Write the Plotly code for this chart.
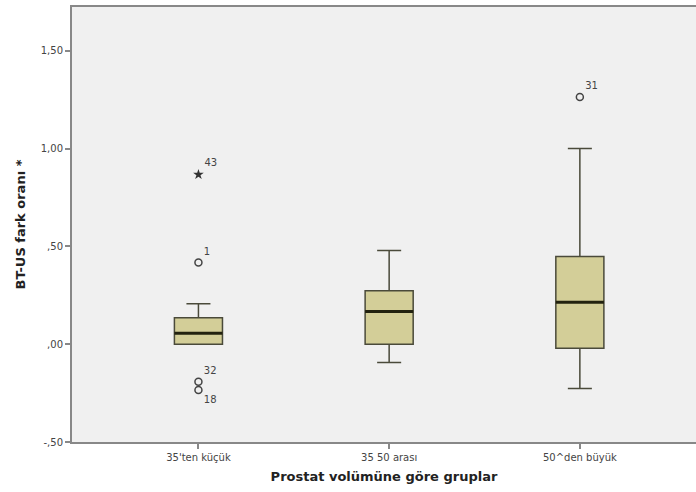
import plotly.graph_objects as go

categories = ["35'ten küçük", "35 50 arası", "50^den büyük"]
q1 = [0.000, 0.000, -0.021]
median = [0.056, 0.167, 0.215]
q3 = [0.136, 0.273, 0.449]
lower_whisker = [0.000, -0.094, -0.226]
upper_whisker = [0.207, 0.480, 1.001]

# outliers: (category index, value, case label)
outlier_cat = [0, 0, 0, 2]
outlier_val = [0.418, -0.192, -0.234, 1.265]
outlier_lab = ["1", "32", "18", "31"]
outlier_pos = ["top right", "top right", "bottom right", "top right"]

extreme_cat = [0]
extreme_val = [0.868]
extreme_lab = ["43"]

y_tickvals = [-0.5, 0.0, 0.5, 1.0, 1.5]
y_ticktext = ["-,50", ",00", ",50", "1,00", "1,50"]

BOX_W = 0.252
FILL = "rgb(211,206,152)"
EDGE = "#4a4a3a"
FONT = "DejaVu Sans"
xs = list(range(len(categories)))

fig = go.Figure()
for i in xs:
    fig.add_trace(go.Box(
        x=[i], q1=[q1[i]], median=[median[i]], q3=[q3[i]],
        lowerfence=[lower_whisker[i]], upperfence=[upper_whisker[i]],
        width=BOX_W, whiskerwidth=0.5, fillcolor=FILL,
        line=dict(color=EDGE, width=1.5), boxpoints=False,
        showlegend=False, hoverinfo="skip"))
    fig.add_trace(go.Scatter(
        x=[i - BOX_W / 2, i + BOX_W / 2], y=[median[i], median[i]],
        mode="lines", line=dict(color="#22220f", width=3),
        showlegend=False, hoverinfo="skip"))

fig.add_trace(go.Scatter(
    x=outlier_cat, y=outlier_val, mode="markers+text",
    marker=dict(symbol="circle-open", size=7, color="#444", line=dict(width=1.5)),
    text=outlier_lab, textposition=outlier_pos,
    textfont=dict(size=10, color="#444", family=FONT),
    showlegend=False, hoverinfo="skip"))
fig.add_trace(go.Scatter(
    x=extreme_cat, y=extreme_val, mode="markers+text",
    marker=dict(symbol="star", size=8, color="#333"),
    text=extreme_lab, textposition="top right",
    textfont=dict(size=10, color="#444", family=FONT),
    showlegend=False, hoverinfo="skip"))

fig.update_layout(
    width=696, height=492,
    margin=dict(l=72, r=0, t=7, b=50),
    paper_bgcolor="white", plot_bgcolor="#f0f0f0",
    font=dict(family=FONT, color="#333"),
    xaxis=dict(
        range=[-0.663, 2.609], tickvals=xs, ticktext=categories,
        showgrid=False, zeroline=False, showline=True, mirror=True,
        linecolor="#888", linewidth=2, ticks="outside", ticklen=5,
        tickwidth=2, tickcolor="#888",
        tickfont=dict(size=10, color="#444"),
        title=dict(text="<b>Prostat volümüne göre gruplar</b>",
                   font=dict(size=13, color="#222"), standoff=10)),
    yaxis=dict(
        range=[-0.5, 1.725], tickvals=y_tickvals, ticktext=y_ticktext,
        showgrid=False, zeroline=False, showline=True,
        linecolor="#888", linewidth=2, ticks="outside", ticklen=5,
        tickwidth=2, tickcolor="#888",
        tickfont=dict(size=10, color="#444"),
        title=dict(text="<b>BT-US fark oranı *</b>",
                   font=dict(size=13, color="#222"), standoff=12)),
)

fig.write_html("out.html", config={"displayModeBar": False},
               post_script="document.body.style.margin='0';")
